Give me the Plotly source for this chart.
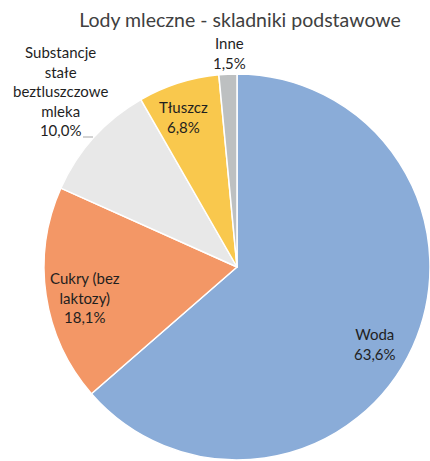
import plotly.graph_objects as go

labels = ["Woda", "Cukry (bez laktozy)", "Substancje stałe beztluszczowe mleka", "Tłuszcz", "Inne"]
label_display = ["Woda", "Cukry (bez<br>laktozy)", "Substancje<br>stałe<br>beztluszczowe<br>mleka", "Tłuszcz", "Inne"]
values = [63.6, 18.1, 10.0, 6.8, 1.5]
colors = ["#8AACD8", "#F39766", "#E8E8E8", "#F9C84D", "#BDC0C1"]

# label anchor positions (paper px) for each slice
label_pos = [(375, 344), (85, 297), (60, 91), (183, 117), (230, 53)]

W, H = 430, 461
fig = go.Figure()
fig.add_trace(go.Pie(
    labels=labels, values=values, sort=False, direction="clockwise", rotation=0,
    marker=dict(colors=colors, line=dict(color="white", width=1.5)),
    textinfo="none", hoverinfo="label+percent", showlegend=False,
    domain=dict(x=[44 / W, 430 / W], y=[1 - 460 / H, 1 - 74 / H]),
))

anns = []
for lab, v, (px, py) in zip(label_display, values, label_pos):
    txt = lab + "<br>" + f"{v:.1f}".replace(".", ",") + "%"
    anns.append(dict(x=px / W, y=1 - py / H, xref="paper", yref="paper", text=txt,
                     showarrow=False, xanchor="center", yanchor="middle",
                     font=dict(family="Lato", size=15, color="#1f1f1f")))
fig.update_layout(
    width=W, height=H, margin=dict(l=0, r=0, t=0, b=0),
    paper_bgcolor="white", plot_bgcolor="white",
    title=dict(text="Lody mleczne - skladniki podstawowe", x=240 / W, xanchor="center",
               y=1 - 20 / H, yanchor="middle",
               font=dict(family="Lato", size=19.5, color="#404040")),
    annotations=anns,
    shapes=[dict(type="line", xref="paper", yref="paper", x0=83 / W, x1=93 / W,
                 y0=1 - 137 / H, y1=1 - 137 / H, line=dict(color="#A6A6A6", width=1))],
)
fig.write_html("out.html")
